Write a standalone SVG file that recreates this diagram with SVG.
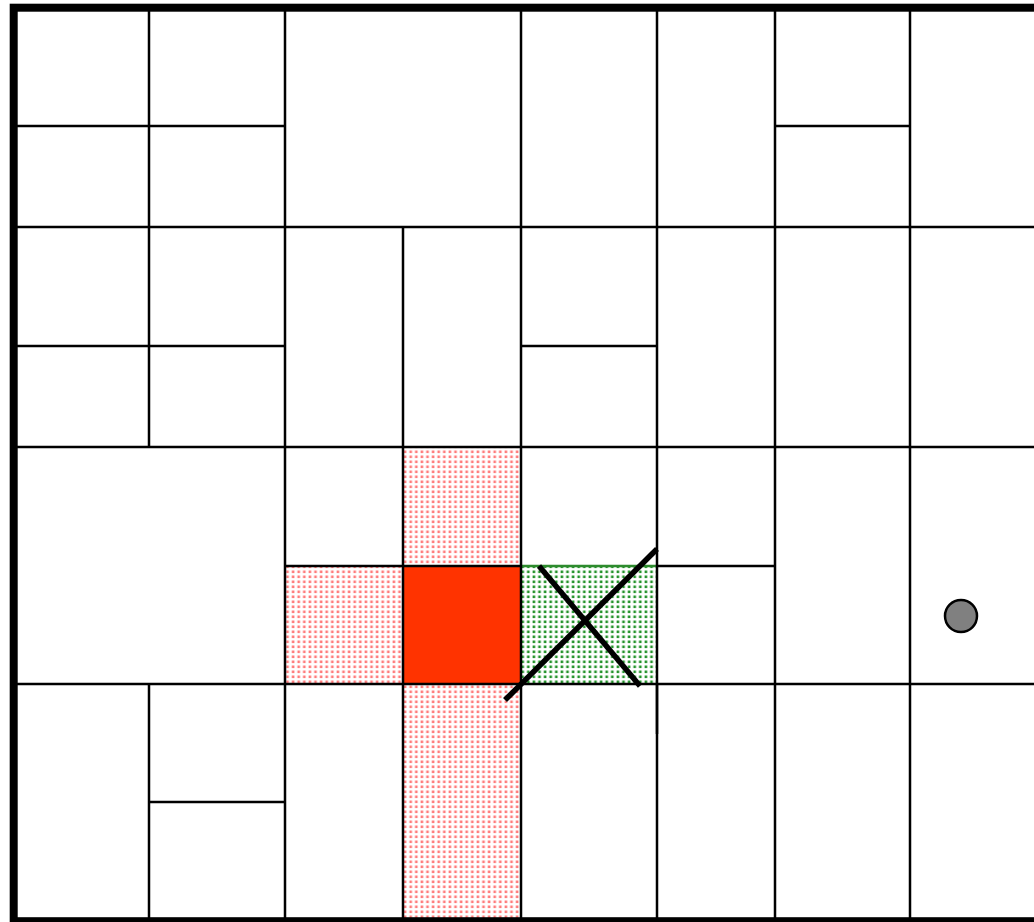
<svg xmlns="http://www.w3.org/2000/svg" width="1034" height="922" viewBox="0 0 1034 922">
  <defs>
    <pattern id="pinkDots" x="0" y="0" width="5.6" height="5" patternUnits="userSpaceOnUse">
      <rect x="0.6" y="0.5" width="2.6" height="2.6" fill="#ff6464"/>
    </pattern>
    <pattern id="greenDots" x="0" y="0" width="5.6" height="5" patternUnits="userSpaceOnUse">
      <rect x="0.6" y="0.5" width="2.6" height="2.6" fill="#23922a"/>
    </pattern>
    <style>
      .g { stroke: #000; stroke-width: 2.5; fill: none; stroke-linecap: butt; }
      .x { stroke: #000; stroke-width: 5.5; fill: none; }
    </style>
  </defs>
  <rect width="1034" height="922" fill="#fff"/>

  <g id="cells">
    <rect x="403" y="447" width="118" height="119" fill="url(#pinkDots)" opacity="0.85"/>
    <rect x="285" y="566" width="118" height="118" fill="url(#pinkDots)" opacity="0.85"/>
    <rect x="403" y="684" width="118" height="238" fill="url(#pinkDots)" opacity="0.85"/>
    <rect x="403" y="566" width="118" height="118" fill="#ff3300"/>
    <rect x="521" y="566" width="136" height="118" fill="url(#greenDots)"/>
  </g>

  <g id="grid">
    <line class="g" x1="14" y1="227" x2="1034" y2="227"/>
    <line class="g" x1="14" y1="447" x2="1034" y2="447"/>
    <line class="g" x1="14" y1="684" x2="1034" y2="684"/>
    <line class="g" x1="14" y1="126" x2="285" y2="126"/>
    <line class="g" x1="775" y1="126" x2="910" y2="126"/>
    <line class="g" x1="14" y1="346" x2="285" y2="346"/>
    <line class="g" x1="521" y1="346" x2="657" y2="346"/>
    <line class="g" x1="285" y1="566" x2="521" y2="566"/>
    <line class="g" x1="657" y1="566" x2="775" y2="566"/>
    <line x1="521" y1="566" x2="657" y2="566" stroke="#2e8b2e" stroke-width="2.5"/>
    <line class="g" x1="149" y1="802" x2="285" y2="802"/>
    <line class="g" x1="149" y1="8" x2="149" y2="447"/>
    <line class="g" x1="149" y1="684" x2="149" y2="922"/>
    <line class="g" x1="285" y1="8" x2="285" y2="922"/>
    <line class="g" x1="403" y1="227" x2="403" y2="922"/>
    <line class="g" x1="521" y1="8" x2="521" y2="922"/>
    <line class="g" x1="657" y1="8" x2="657" y2="922"/>
    <line class="g" x1="657" y1="684" x2="657" y2="734" stroke-width="3"/>
    <line class="g" x1="775" y1="8" x2="775" y2="922"/>
    <line class="g" x1="910" y1="8" x2="910" y2="922"/>
  </g>

  <g id="border">
    <rect x="13.7" y="7.7" width="1040" height="913.5" fill="none" stroke="#000" stroke-width="8"/>
  </g>

  <g id="cross">
    <line class="x" x1="505" y1="700" x2="657" y2="549"/>
    <line class="x" x1="539" y1="566" x2="640" y2="686"/>
  </g>

  <g id="marker">
    <circle cx="961" cy="616" r="16" fill="#808080" stroke="#000" stroke-width="2.5"/>
  </g>
</svg>
